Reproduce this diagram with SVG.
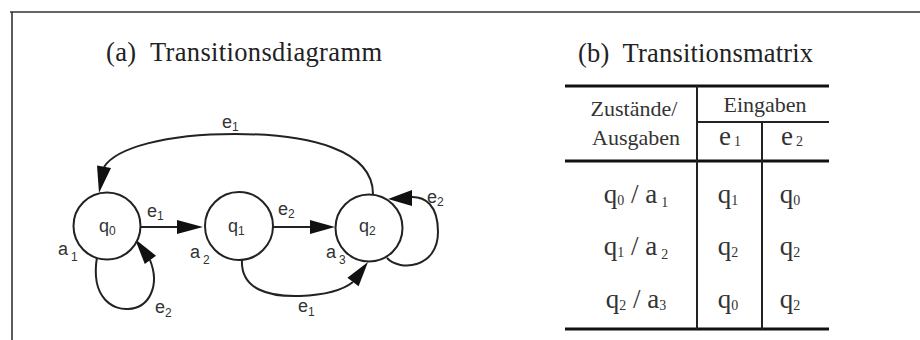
<svg xmlns="http://www.w3.org/2000/svg" width="920" height="340" viewBox="0 0 920 340">
<style>
.frame{stroke:#333;stroke-width:1.6;fill:none}
.node circle{fill:#fff;stroke:#222;stroke-width:2}
.conn path,.conn line{fill:none;stroke:#222;stroke-width:2}
.head{fill:#111;stroke:none}
.lbl{font-family:"Liberation Sans",Arial,sans-serif;font-size:18px;fill:#333}
.sub{font-size:12px}
.title{font-family:"Liberation Serif","Times New Roman",serif;font-size:26.5px;fill:#222;white-space:pre}
.tbl{font-family:"Liberation Serif","Times New Roman",serif;font-size:22px;fill:#333;text-anchor:middle}
.cell{font-family:"Liberation Serif","Times New Roman",serif;font-size:27px;fill:#333;text-anchor:middle}
.tsub{font-size:14px}
.thick{stroke:#111;stroke-width:3.2}
.thin{stroke:#222;stroke-width:2}
</style>
<rect width="920" height="340" fill="#fff"/>
<g id="frame">
<line class="frame" x1="10" y1="12" x2="920" y2="12"/>
<line class="frame" x1="12" y1="12" x2="12" y2="340"/>
</g>
<text class="title" x="106" y="61" textLength="276" lengthAdjust="spacing">(a)  Transitionsdiagramm</text>
<text class="title" x="578" y="62" textLength="235" lengthAdjust="spacing">(b)  Transitionsmatrix</text>

<g id="connectors" class="conn">
<line x1="140" y1="227" x2="180" y2="227"/>
<polygon class="head" points="203,227 177,220 177,234"/>
<line x1="273" y1="227" x2="313" y2="227"/>
<polygon class="head" points="335,227 310,220 310,234"/>
<path d="M373,194 C373,150 310,134 235,134 C165,134 116,148 104,167"/>
<polygon class="head" points="99,193 111,168 97,165.5"/>
<path d="M97,257 C90,300 115,310 128,309 C150,308 160,285 150,260"/>
<polygon class="head" points="135,239 156,255.7 144.8,264.1"/>
<path d="M242,259 C240,290 270,297 300,296 C325,295 343,290 353,282"/>
<polygon class="head" points="368,262 358.6,286.2 347.4,277.8"/>
<path d="M387,258 C400,272 438,268 438,232 C438,205 425,196 410,197"/>
<polygon class="head" points="388,199 412,190 412,206"/>
<text class="lbl" x="222" y="128">e<tspan class="sub" dy="3">1</tspan></text>
<text class="lbl" x="147" y="217">e<tspan class="sub" dy="3">1</tspan></text>
<text class="lbl" x="278" y="215">e<tspan class="sub" dy="3">2</tspan></text>
<text class="lbl" x="155" y="313">e<tspan class="sub" dy="4">2</tspan></text>
<text class="lbl" x="298" y="312">e<tspan class="sub" dy="4">1</tspan></text>
<text class="lbl" x="427" y="203">e<tspan class="sub" dy="3">2</tspan></text>
</g>

<g id="q0" class="node">
<circle cx="107" cy="226" r="33.5"/>
<text class="lbl" x="99" y="232">q<tspan class="sub" dy="3">0</tspan></text>
<text class="lbl" x="58" y="255">a<tspan class="sub" dx="3" dy="6">1</tspan></text>
</g>
<g id="q1" class="node">
<circle cx="239" cy="226" r="34"/>
<text class="lbl" x="228" y="232">q<tspan class="sub" dy="3">1</tspan></text>
<text class="lbl" x="190" y="258">a<tspan class="sub" dx="3" dy="6">2</tspan></text>
</g>
<g id="q2" class="node">
<circle cx="369" cy="228" r="33.5"/>
<text class="lbl" x="359" y="232">q<tspan class="sub" dy="3">2</tspan></text>
<text class="lbl" x="326" y="258">a<tspan class="sub" dx="3" dy="6">3</tspan></text>
</g>

<g id="table">
<line class="thick" x1="565" y1="86" x2="829" y2="86"/>
<line class="thin" x1="697" y1="122" x2="829" y2="122"/>
<line class="thick" x1="565" y1="161" x2="829" y2="161"/>
<line class="thick" x1="565" y1="329" x2="829" y2="329"/>
<line class="thin" x1="697" y1="86" x2="697" y2="329"/>
<line class="thin" x1="762" y1="122" x2="762" y2="329"/>
<text class="tbl" x="634" y="116">Zustände/</text>
<text class="tbl" x="636" y="145">Ausgaben</text>
<text class="tbl" x="765" y="112">Eingaben</text>
<text class="cell" x="730" y="145">e<tspan class="tsub" dx="3" dy="1">1</tspan></text>
<text class="cell" x="792" y="145">e<tspan class="tsub" dx="3" dy="1">2</tspan></text>
<text class="cell" x="636" y="203">q<tspan class="tsub" dy="2">0</tspan><tspan dy="-2"> / a</tspan><tspan class="tsub" dx="4" dy="4">1</tspan></text>
<text class="cell" x="636" y="255">q<tspan class="tsub" dy="2">1</tspan><tspan dy="-2">  / a</tspan><tspan class="tsub" dx="4" dy="4">2</tspan></text>
<text class="cell" x="636" y="308">q<tspan class="tsub" dy="2">2</tspan><tspan dy="-2"> / a</tspan><tspan class="tsub" dy="2">3</tspan></text>
<text class="cell" x="728" y="203">q<tspan class="tsub" dy="2">1</tspan></text>
<text class="cell" x="790" y="203">q<tspan class="tsub" dy="2">0</tspan></text>
<text class="cell" x="728" y="255">q<tspan class="tsub" dy="2">2</tspan></text>
<text class="cell" x="790" y="255">q<tspan class="tsub" dy="2">2</tspan></text>
<text class="cell" x="728" y="308">q<tspan class="tsub" dy="2">0</tspan></text>
<text class="cell" x="790" y="308">q<tspan class="tsub" dy="2">2</tspan></text>
</g>
</svg>
